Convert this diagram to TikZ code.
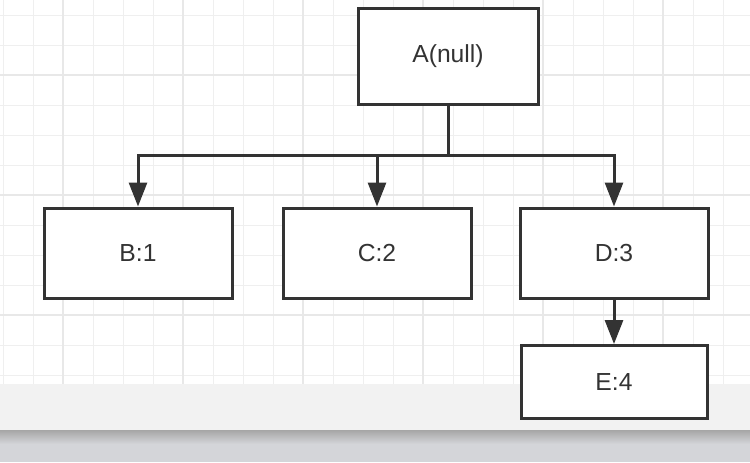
\documentclass[tikz,border=0pt]{standalone}
\usepackage{fontspec}
\setsansfont{Liberation Sans}
\usetikzlibrary{arrows.meta, positioning}
\definecolor{cline}{HTML}{333333}
\definecolor{cgrid}{HTML}{EFEFEF}
\definecolor{cgridmaj}{HTML}{E8E8E8}
\definecolor{cband}{HTML}{F2F2F2}
\definecolor{cfloor}{HTML}{D4D5D9}
\tikzset{
  every picture/.style={font=\sffamily, line width=2.25pt},
  box/.style={draw=cline, fill=white, text=cline, inner sep=0pt, minimum width=#1,
    font=\sffamily\fontsize{18.5}{22}\selectfont},
  box/.default=141pt,
  arrow/.style={-{Triangle[length=18pt, width=13.5pt]}, draw=cline},
  link/.style={draw=cline},
}

\begin{document}
\begin{tikzpicture}[x=0.75pt, y=-0.75pt]
  \useasboundingbox (0,0) rectangle (750,462);
  % paper grid
  \fill[white] (0,0) rectangle (750,384);
  \foreach \gx in {3,33,...,753} \draw[cgrid, line width=0.75pt] (\gx,0) -- (\gx,384);
  \foreach \gy in {15,45,...,375} \draw[cgrid, line width=0.75pt] (0,\gy) -- (750,\gy);
  \foreach \gx in {63,183,...,723} \draw[cgridmaj, line width=1.1pt] (\gx,0) -- (\gx,384);
  \foreach \gy in {75,195,315} \draw[cgridmaj, line width=1.1pt] (0,\gy) -- (750,\gy);
  \fill[cband] (0,384) rectangle (750,430);
  \shade[top color=black!35, bottom color=cfloor] (0,430) rectangle (750,444);
  \fill[cfloor] (0,444) rectangle (750,462);

  % tree
  \node[box=135pt, minimum height=72pt] (A) at (448,56) {A(null)};
  \node[box, minimum height=67.5pt] (B) at (138,253) {B:1};
  \node[box, minimum height=67.5pt] (C) at (377,253) {C:2};
  \node[box, minimum height=67.5pt] (D) at (614,253) {D:3};
  \node[box=139.5pt, minimum height=54.75pt] (E) at (614,382) {E:4};

  \coordinate (bus) at (448,155);
  \draw[link] (A.south) -- (bus);
  \foreach \n in {B,C,D}
    \draw[arrow] (bus) -| (\n.north);
  \draw[arrow] (D.south) -- (E.north);
\end{tikzpicture}
\end{document}
